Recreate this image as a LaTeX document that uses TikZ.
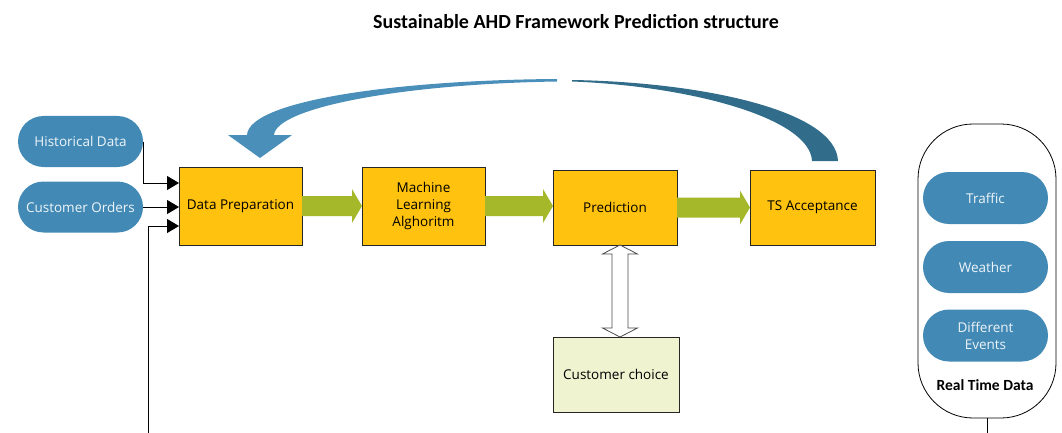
\documentclass[tikz,border=0pt]{standalone}
\usepackage{fontspec}
\setmainfont{Carlito}
\newfontfamily\bodyfont{Open Sans}
\usetikzlibrary{arrows.meta,calc,shapes.misc}
\definecolor{pill}{HTML}{428AB5}
\definecolor{pilltext}{HTML}{EEF4F9}
\definecolor{boxfill}{HTML}{FFC20E}
\definecolor{garr}{HTML}{A5B82A}
\definecolor{ccfill}{HTML}{F0F3D0}
\definecolor{cleft}{HTML}{4A8EBA}
\definecolor{cright}{HTML}{316C8B}
\tikzset{
  pillnode/.style={rounded rectangle, fill=pill, text=pilltext, minimum width=125pt, minimum height=51pt, inner sep=0pt, outer sep=0pt, font=\bodyfont\fontsize{13.5}{17}\selectfont, align=center},
  stagebox/.style={rectangle, draw=black!85, line width=0.9pt, fill=boxfill, inner sep=0pt, outer sep=0pt, font=\bodyfont\fontsize{13.5}{17}\selectfont, align=center},
  conn/.style={line width=1pt, -{Triangle[length=12pt,width=14pt]}},
  garrow/.style={fill=garr},
}
\begin{document}
\begin{tikzpicture}[x=1pt,y=-1pt]
\useasboundingbox (0,0) rectangle (1062,433);

\node[font=\bfseries\fontsize{20}{22}\selectfont] (title) at (576,22) {Sustainable AHD Framework Prediction structure};

% left inputs
\node[pillnode] (hist) at (80.5,141.5) {Historical Data};
\node[pillnode] (cord) at (80.5,207) {Customer Orders};

% stages
\node[stagebox, minimum width=123pt, minimum height=78pt] (dp) at (240.5,206) {Data Preparation};
\node[stagebox, minimum width=123pt, minimum height=78pt] (ml) at (423.5,206) {Machine\\Learning\\Alghoritm};
\node[stagebox, minimum width=124pt, minimum height=75pt] (pred) at (615,207.5) {Prediction};
\node[stagebox, minimum width=125pt, minimum height=75pt] (ts) at (812.5,207.5) {TS Acceptance};
\node[stagebox, fill=ccfill, minimum width=126pt, minimum height=75pt] (cc) at (616,374.5) {Customer choice};

% black input connectors
\draw[conn] (hist.east) |- ($(dp.west)+(0,-23)$);
\draw[conn] (cord.east) -- (cord.east -| dp.west);
\coordinate (low) at (148,433);
\draw[conn] (low) |- ($(dp.west)+(0,20)$);

% green block arrows
\foreach \a/\b in {dp/ml, ml/pred, pred/ts}{
  \fill[garrow] ($(\a.east)+(0,-10)$) -- ($(\b.west|-\a.east)+(-10,-10)$) -- ($(\b.west|-\a.east)+(-10,-17)$) -- (\b.west|-\a.east) -- ($(\b.west|-\a.east)+(-10,17)$) -- ($(\b.west|-\a.east)+(-10,10)$) -- ($(\a.east)+(0,10)$) -- cycle;
}

% double arrow prediction <-> customer choice
\coordinate (dtop) at ($(pred.south)+(5,0)$);
\coordinate (dbot) at (dtop |- cc.north);
\draw[draw=black!70, fill=white, line width=0.8pt]
  (dtop) -- ($(dtop)+(17.5,9)$) -- ($(dtop)+(8,9)$) -- ($(dbot)+(8,-9)$) -- ($(dbot)+(17.5,-9)$) -- (dbot)
  -- ($(dbot)+(-17.5,-9)$) -- ($(dbot)+(-8,-9)$) -- ($(dtop)+(-8,9)$) -- ($(dtop)+(-17.5,9)$) -- cycle;

% curved feedback arrow
\fill[cright] (838,161) .. controls (836,110) and (700,82) .. (572,80)
  -- (572,81.5) .. controls (690,86) and (810,118) .. (812,161) -- cycle;
\fill[cleft] (557,79) .. controls (400,80) and (249,100) .. (247,135)
  -- (228,135) -- (260,158) -- (292,135) -- (274,135)
  .. controls (276,108) and (400,84) .. (557,81.5) -- cycle;

% real time data container
\node[draw=black, line width=0.8pt, rounded corners=55pt, minimum width=138pt, minimum height=294pt, inner sep=0pt, outer sep=0pt] (rt) at (987,271) {};
\node[pillnode, minimum height=52pt] (traffic) at (985.5,198) {Traffic};
\node[pillnode, minimum height=52pt] (weather) at (985.5,267) {Weather};
\node[pillnode, minimum height=52pt] (events) at (985.5,335.5) {Different\\Events};
\node[font=\bfseries\fontsize{15.5}{17}\selectfont] (rtlabel) at (985,385) {Real Time Data};
\coordinate (rtend) at (987,433);
\draw[line width=0.9pt] (rt.south) -- (rtend);
\end{tikzpicture}
\end{document}
